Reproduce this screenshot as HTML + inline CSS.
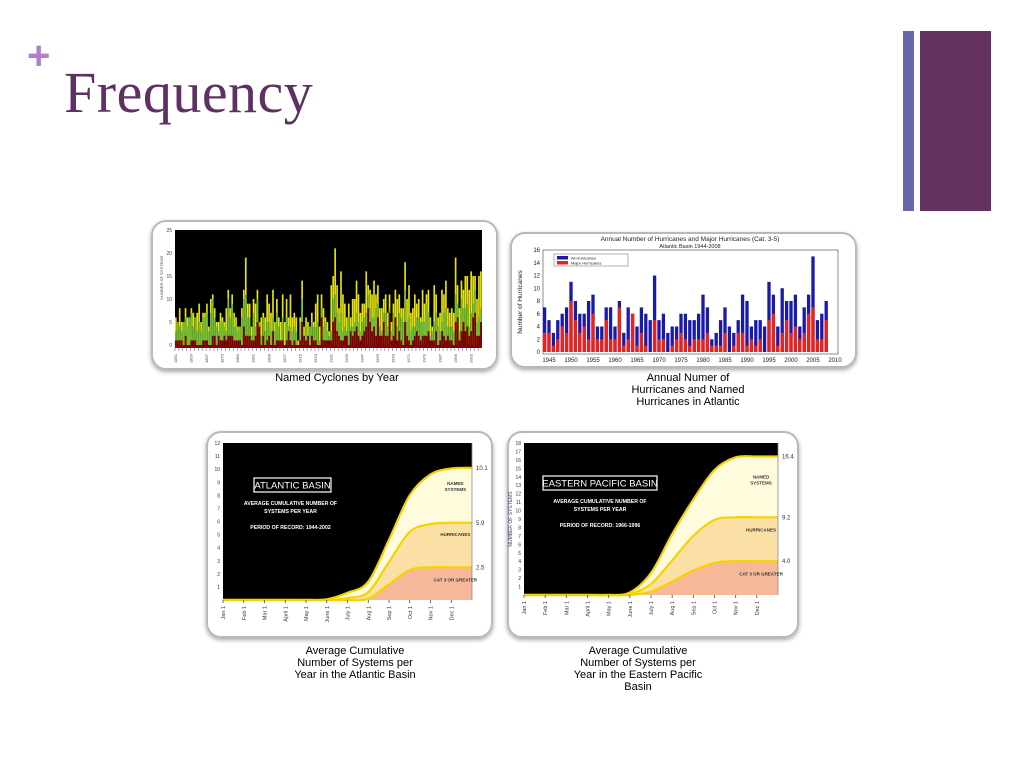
<!DOCTYPE html>
<html><head><meta charset="utf-8"><style>
body{margin:0;width:1024px;height:768px;background:#fff;position:relative;overflow:hidden;font-family:"Liberation Sans",sans-serif}
.t{position:absolute}
.cap{position:absolute;font-size:11px;color:#000;text-align:center;line-height:12px;font-family:"Liberation Sans",sans-serif}
</style></head><body>
<div class="t" style="left:27px;top:36px;font-size:40px;color:#b57ccb;font-family:'Liberation Sans',sans-serif;font-weight:bold;line-height:40px">+</div>
<div class="t" style="left:64px;top:62px;font-size:58px;color:#5e3163;font-family:'Liberation Serif',serif;line-height:62px;letter-spacing:0.5px">Frequency</div>
<div class="t" style="left:903px;top:31px;width:11px;height:180px;background:#6a66a8"></div>
<div class="t" style="left:920px;top:31px;width:71px;height:180px;background:#633261"></div>

<svg id="s" width="1024" height="768" style="position:absolute;left:0;top:0">
<defs><filter id="sh" x="-10%" y="-10%" width="120%" height="130%"><feDropShadow dx="0" dy="2" stdDeviation="2" flood-color="#000" flood-opacity="0.35"/></filter></defs>
</svg>

<div class="cap" style="left:237px;top:372px;width:200px">Named Cyclones by Year</div>
<div class="cap" style="left:588px;top:372px;width:200px">Annual Numer of<br>Hurricanes and Named<br>Hurricanes in Atlantic</div>
<div class="cap" style="left:255px;top:645px;width:200px">Average Cumulative<br>Number of Systems per<br>Year in the Atlantic Basin</div>
<div class="cap" style="left:538px;top:645px;width:200px">Average Cumulative<br>Number of Systems per<br>Year in the Eastern Pacific<br>Basin</div>

<script>
// ---- Chart 1: named cyclones by year (1851-2008)
const c1Start = 1851;
const c1Named = [6,5,8,5,5,8,6,6,8,7,6,7,9,5,7,7,9,4,10,11,
8,5,5,7,6,5,8,12,8,11,7,6,4,4,8,12,19,9,9,4,
10,9,12,5,6,7,6,11,9,7,12,5,10,6,5,11,5,10,6,11,
6,7,6,1,6,14,4,6,5,4,7,5,9,11,4,11,8,6,5,3,
13,15,21,13,8,16,11,9,6,9,6,10,10,14,11,7,9,9,16,13,
12,11,14,11,13,8,8,10,11,7,11,5,9,12,10,11,8,8,18,10,
13,7,8,11,9,10,6,12,9,11,12,6,4,13,11,6,7,12,11,14,
8,7,8,7,19,13,8,14,12,15,15,12,16,15,15,10,15,16];
const c1Hurr = [3,5,4,3,5,6,4,6,7,4,6,3,5,3,6,6,7,3,7,10,
6,4,3,5,5,4,3,10,6,9,4,4,3,4,6,10,11,6,6,2,
7,4,10,5,2,6,3,5,5,3,6,3,7,4,1,6,0,6,4,4,
3,4,3,0,5,10,2,4,2,4,5,4,4,5,1,8,4,5,3,2,
3,10,11,7,5,7,3,4,3,6,4,4,5,7,5,3,5,6,7,11,
8,6,6,8,9,4,3,7,7,4,8,3,7,6,4,7,6,5,12,5,
6,3,4,4,6,6,5,5,5,9,7,2,3,5,7,4,3,5,7,8,
4,4,4,3,11,9,3,10,8,8,9,4,7,9,12,5,6,8];
const c1Major = [1,1,1,1,0,2,0,0,1,1,1,0,0,0,1,1,1,0,0,2,
2,0,2,1,1,2,1,2,2,2,1,1,1,1,0,4,2,2,2,1,
1,2,5,4,0,2,0,1,2,0,3,0,1,1,1,1,0,1,3,1,
0,1,0,0,1,5,2,1,2,0,2,1,1,0,0,6,1,1,1,1,
1,5,6,3,2,1,1,2,2,0,3,2,3,4,2,1,2,3,4,8,
5,3,4,2,6,2,2,5,2,2,7,1,2,6,1,3,1,0,5,2,
1,0,1,2,3,2,1,2,2,2,3,1,1,1,3,0,1,3,2,1,
2,1,1,0,5,6,1,3,5,3,4,2,3,6,7,2,2,5];
const c1Ticks = [0,5,10,15,20,25];

// ---- Chart 2: annual hurricanes / major hurricanes 1944-2008
const c2Start = 1944;
const c2All = [7,5,3,5,6,7,11,8,6,6,8,9,4,4,7,7,4,8,3,7,6,4,7,6,5,12,5,6,3,4,4,6,6,5,5,6,9,7,2,3,5,7,4,3,5,9,8,4,5,5,4,11,9,4,10,8,8,9,4,7,9,15,5,6,8];
const c2Major = [3,3,1,2,4,3,8,5,3,4,2,6,2,2,5,2,2,7,1,2,6,1,3,1,0,5,2,2,0,1,2,3,2,1,2,2,2,3,1,1,1,3,0,1,3,3,1,2,1,2,0,5,6,1,3,5,3,4,2,3,6,7,2,2,5];
const c2YTicks = [0,2,4,6,8,10,12,14,16];
const c2XTicks = [1945,1950,1955,1960,1965,1970,1975,1980,1985,1990,1995,2000,2005,2010];

// ---- Charts 3/4: cumulative systems (values at start of each month, Jan1 .. next Jan1)
const months = ["Jan 1","Feb 1","Mar 1","April 1","May 1","June 1","July 1","Aug 1","Sep 1","Oct 1","Nov 1","Dec 1"];
const atlNamed = [0,0,0,0,0,0.05,0.55,1.4,4.6,8.0,9.6,10.05,10.1];
const atlHurr  = [0,0,0,0,0,0,0.15,0.6,2.9,5.2,5.8,5.9,5.9];
const atlMajor = [0,0,0,0,0,0,0,0.1,1.2,2.3,2.5,2.5,2.5];
const atlEnd = ["10.1","5.9","2.5"];
const pacNamed = [0,0,0,0,0,0.3,2.6,7.2,11.3,14.8,16.3,16.4,16.4];
const pacHurr  = [0,0,0,0,0,0.1,1.3,4.1,7.0,8.9,9.2,9.2,9.2];
const pacMajor = [0,0,0,0,0,0,0.4,1.6,2.9,3.8,4.0,4.0,4.0];
const pacEnd = ["16.4","9.2","4.0"];

const NS="http://www.w3.org/2000/svg";
const svg=document.getElementById('s');
function mk(tag,attrs,parent){const e=document.createElementNS(NS,tag);for(const k in attrs)e.setAttribute(k,attrs[k]);(parent||svg).appendChild(e);return e;}
function txt(s,attrs,parent){const e=mk('text',attrs,parent);e.textContent=s;return e;}

function frame(x,y,w,h,name){
  const r=mk('rect',{x:x,y:y,width:w,height:h,rx:14,fill:'#fff',stroke:'#b8b8c0','stroke-width':2,filter:'url(#sh)'});
  
  
}

// ===== Chart 1 =====
frame(152,221,345,148,'named-cyclones-frame');
(function(){
  const g=mk('g',{});
  
  
  const X0=175,X1=482,Y0=345,YT=230,MAX=25;
  const y=v=>Y0-(v/MAX)*(Y0-YT);
  const bw=(X1-X0)/c1Named.length;
  const x=i=>X0+i*bw;
  mk('rect',{x:X0,y:YT,width:X1-X0,height:Y0-YT,fill:'#000'},g);
  c1Named.forEach((v,i)=>{
    const b1=mk('rect',{x:x(i),y:y(v),width:bw*0.85,height:Y0-y(v),fill:'#e8e40a'},g);
    
    
    const h=c1Hurr[i];
    const b2=mk('rect',{x:x(i),y:y(h),width:bw*0.85,height:Y0-y(h),fill:'#6fbf3a'},g);
    
    
    const m=c1Major[i];
    const b3=mk('rect',{x:x(i),y:y(m),width:bw,height:Y0-y(m),fill:'#7a0000'},g);
    
    
  });
  mk('rect',{x:X0,y:Y0,width:X1-X0,height:3,fill:'#8a0000'},g);
  c1Ticks.forEach(t=>{txt(String(t),{x:X0-3,y:y(t)+2,'font-size':5,fill:'#444','text-anchor':'end'},g);});
  txt('NUMBER OF SYSTEMS',{x:163,y:300,'font-size':4,fill:'#446',transform:'rotate(-90 163 300)'},g);
  for(let i=0;i<c1Named.length;i+=2){mk('line',{x1:x(i),y1:Y0+3,x2:x(i),y2:Y0+6,stroke:'#66a','stroke-width':0.6},g);}
  for(let i=0;i<c1Named.length;i+=8){txt(String(c1Start+i),{x:x(i)+2,y:Y0+9,'font-size':4,fill:'#446',transform:`rotate(-90 ${x(i)+2} ${Y0+9})`,'text-anchor':'end'},g);}
})();

// ===== Chart 2 =====
frame(511,233,345,134,'annual-hurricanes-frame');
(function(){
  const g=mk('g',{});
  
  
  const PX0=543,PX1=838,Y0=352,YT=250,MAX=16;
  const y=v=>Y0-(v/MAX)*(Y0-YT);
  const xs=yr=>549+(yr-1945)*(835-549)/65;
  txt('Annual Number of Hurricanes and Major Hurricanes (Cat. 3-5)',{x:690,y:241,'font-size':6.5,fill:'#222','text-anchor':'middle'},g);
  txt('Atlantic Basin 1944-2008',{x:690,y:248,'font-size':5.5,fill:'#222','text-anchor':'middle'},g);
  mk('rect',{x:PX0,y:YT,width:PX1-PX0,height:Y0-YT+2,fill:'#fff',stroke:'#444','stroke-width':0.6},g);
  const bw=(835-549)/65*0.75;
  c2All.forEach((v,i)=>{
    const cx=xs(c2Start+i);
    const b=mk('rect',{x:cx-bw/2,y:y(v),width:bw,height:Y0-y(v),fill:'#1a1aa8'},g);
    
    
    const m=c2Major[i];
    const r=mk('rect',{x:cx-bw/2,y:y(m),width:bw,height:Y0-y(m),fill:'#e8231e'},g);
    
    
  });
  c2YTicks.forEach(t=>{txt(String(t),{x:PX0-3,y:y(t)+2,'font-size':6,fill:'#222','text-anchor':'end'},g);});
  c2XTicks.forEach(t=>{txt(String(t),{x:xs(t),y:362,'font-size':6,fill:'#222','text-anchor':'middle'},g);});
  txt('Number of Hurricanes',{x:522,y:302,'font-size':6.5,fill:'#222','text-anchor':'middle',transform:'rotate(-90 522 302)'},g);
  const lg=mk('g',{},g);
  
  
  mk('rect',{x:554,y:254,width:74,height:12,fill:'#fff',stroke:'#666','stroke-width':0.5},lg);
  mk('rect',{x:557,y:256,width:11,height:3.5,fill:'#1a1aa8'},lg);
  mk('rect',{x:557,y:261,width:11,height:3.5,fill:'#e8231e'},lg);
  txt('All Hurricanes',{x:571,y:259.5,'font-size':4,fill:'#222'},lg);
  txt('Major Hurricanes',{x:571,y:264.5,'font-size':4,fill:'#222'},lg);
})();

// ===== Cumulative charts =====
function smooth(pts){
  let d=`M${pts[0][0]},${pts[0][1]}`;
  for(let i=0;i<pts.length-1;i++){
    const p0=pts[Math.max(0,i-1)],p1=pts[i],p2=pts[i+1],p3=pts[Math.min(pts.length-1,i+2)];
    const c1=[p1[0]+(p2[0]-p0[0])/6,p1[1]+(p2[1]-p0[1])/6];
    const c2=[p2[0]-(p3[0]-p1[0])/6,p2[1]-(p3[1]-p1[1])/6];
    d+=` C${c1[0]},${c1[1]} ${c2[0]},${c2[1]} ${p2[0]},${p2[1]}`;
  }
  return d;
}
function cumChart(o){
  frame(o.fx,o.fy,o.fw,o.fh,o.name+'-frame');
  const g=mk('g',{});
  
  
  const {X0,X1,Y0,YT,MAX}=o;
  const y=v=>Y0-(v/MAX)*(Y0-YT);
  const x=m=>X0+m*(X1-X0)/12;
  mk('rect',{x:X0,y:YT,width:X1-X0,height:Y0-YT,fill:'#000'},g);
  const series=[[o.named,'#fffbdc','named-systems-area'],[o.hurr,'#fbe0a6','hurricanes-area'],[o.major,'#f6b898','cat3-area']];
  series.forEach(([arr,col,nm])=>{
    const pts=arr.map((v,i)=>[x(i),y(v)]);
    const a=mk('path',{d:smooth(pts)+` L${x(12)},${Y0} L${x(0)},${Y0} Z`,fill:col},g);
    
    
  });
  series.forEach(([arr,col,nm])=>{
    const pts=arr.map((v,i)=>[x(i),y(v)]);
    const l=mk('path',{d:smooth(pts),fill:'none',stroke:'#f4d400','stroke-width':2.2},g);
    
    
  });
  for(let t=1;t<=MAX;t++){txt(String(t),{x:X0-3,y:y(t)+2,'font-size':5,fill:'#333','text-anchor':'end'},g);}
  mk('line',{x1:X1,y1:YT,x2:X1,y2:Y0,stroke:'#889','stroke-width':0.8},g);
  months.forEach((m,i)=>{
    mk('line',{x1:x(i),y1:Y0,x2:x(i),y2:Y0+3,stroke:'#446','stroke-width':0.8},g);
    txt(m,{x:x(i)+2,y:Y0+6,'font-size':5.5,fill:'#335',transform:`rotate(-90 ${x(i)+2} ${Y0+6})`,'text-anchor':'end'},g);
  });
  [o.named,o.hurr,o.major].forEach((arr,k)=>{
    txt(o.end[k],{x:X1+4,y:y(arr[12])+2,'font-size':6,fill:'#333'},g);
  });
  const bx=o.boxX;
  mk('rect',{x:bx,y:o.boxY,width:o.boxW,height:14,fill:'none',stroke:'#fff','stroke-width':1.2},g);
  txt(o.title,{x:bx+o.boxW/2,y:o.boxY+10.5,'font-size':9.5,fill:'#fff','text-anchor':'middle'},g);
  const cx=bx+o.boxW/2+o.subDx;
  txt('AVERAGE CUMULATIVE NUMBER OF',{x:cx,y:o.boxY+27,'font-size':5.2,'font-weight':'bold',fill:'#fff','text-anchor':'middle'},g);
  txt('SYSTEMS PER YEAR',{x:cx,y:o.boxY+35,'font-size':5.2,'font-weight':'bold',fill:'#fff','text-anchor':'middle'},g);
  txt(o.period,{x:cx,y:o.boxY+51,'font-size':5.2,'font-weight':'bold',fill:'#fff','text-anchor':'middle'},g);
  txt('NAMED',{x:x(11.2),y:y(o.lab[0]),'font-size':4.5,'font-weight':'bold',fill:'#333','text-anchor':'middle'},g);
  txt('SYSTEMS',{x:x(11.2),y:y(o.lab[0])+6,'font-size':4.5,'font-weight':'bold',fill:'#333','text-anchor':'middle'},g);
  txt('HURRICANES',{x:x(11.2),y:y(o.lab[1]),'font-size':4.5,'font-weight':'bold',fill:'#333','text-anchor':'middle'},g);
  txt('CAT 3 OR GREATER',{x:x(11.2),y:y(o.lab[2]),'font-size':4.5,'font-weight':'bold',fill:'#333','text-anchor':'middle'},g);
  if(o.ylab) txt('NUMBER OF SYSTEMS',{x:o.X0-12,y:(o.YT+o.Y0)/2,'font-size':5,fill:'#446','text-anchor':'middle',transform:`rotate(-90 ${o.X0-12} ${(o.YT+o.Y0)/2})`},g);
}
cumChart({name:'atlantic-basin',fx:207,fy:432,fw:285,fh:205,X0:223,X1:472,Y0:600,YT:443,MAX:12,
  named:atlNamed,hurr:atlHurr,major:atlMajor,end:atlEnd,title:'ATLANTIC BASIN',period:'PERIOD OF RECORD: 1944-2002',
  boxX:254,boxY:478,boxW:77,subDx:-2,lab:[8.8,4.9,1.4]});
cumChart({name:'eastern-pacific-basin',fx:508,fy:432,fw:290,fh:205,X0:524,X1:778,Y0:595,YT:443,MAX:18,
  named:pacNamed,hurr:pacHurr,major:pacMajor,end:pacEnd,title:'EASTERN PACIFIC BASIN',period:'PERIOD OF RECORD: 1966-1996',
  boxX:543,boxY:476,boxW:114,subDx:0,lab:[13.8,7.5,2.3],ylab:true});
</script>
</body></html>
